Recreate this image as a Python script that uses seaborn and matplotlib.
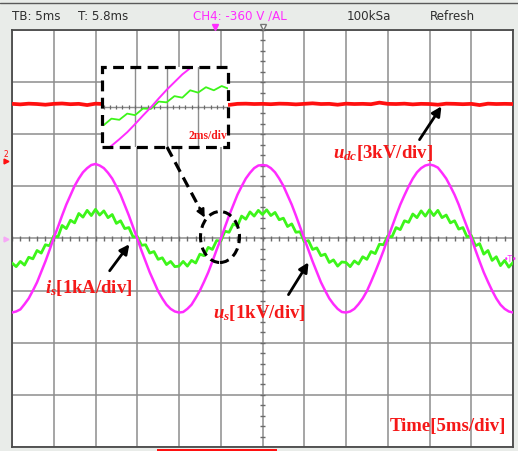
import numpy as np
import matplotlib
matplotlib.use("Agg")
import matplotlib.pyplot as plt
import seaborn as sns
from matplotlib.patches import Rectangle, Ellipse, FancyArrowPatch
from matplotlib.lines import Line2D

# ---- captured traces ------------------------------------------------------
# sample clock: 0.5 ms steps over the 60 ms record (12 div x 5 ms/div)
t_ms = np.arange(121) * 0.5

# grid voltage u_s [kV]
u_s_kv = [
    -1.42, -1.40, -1.36, -1.26, -1.15, -1.00, -0.84, -0.64, -0.44, -0.22,
    0.01, 0.22, 0.44, 0.65, 0.83, 1.01, 1.15, 1.27, 1.35, 1.41,
    1.43, 1.40, 1.35, 1.26, 1.15, 1.00, 0.84, 0.64, 0.44, 0.22,
    0.00, -0.23, -0.44, -0.65, -0.83, -1.01, -1.15, -1.27, -1.35, -1.40,
    -1.42, -1.41, -1.35, -1.27, -1.14, -1.00, -0.83, -0.65, -0.44, -0.22,
    -0.01, 0.22, 0.44, 0.64, 0.84, 1.00, 1.15, 1.26, 1.35, 1.40,
    1.41, 1.40, 1.35, 1.27, 1.15, 1.01, 0.83, 0.65, 0.44, 0.22,
    0.00, -0.22, -0.44, -0.64, -0.84, -1.00, -1.15, -1.26, -1.35, -1.41,
    -1.42, -1.40, -1.35, -1.26, -1.15, -1.01, -0.83, -0.64, -0.44, -0.23,
    0.00, 0.22, 0.44, 0.65, 0.83, 1.00, 1.15, 1.27, 1.35, 1.40,
    1.42, 1.40, 1.36, 1.26, 1.15, 1.00, 0.84, 0.65, 0.43, 0.22,
    0.01, -0.22, -0.44, -0.65, -0.83, -1.00, -1.15, -1.27, -1.35, -1.40,
    -1.42,
]

# grid current i_s [kA]
i_s_ka = [
    -0.47, -0.54, -0.44, -0.51, -0.36, -0.39, -0.23, -0.28, -0.12, -0.14,
    0.05, 0.03, 0.25, 0.19, 0.35, 0.30, 0.48, 0.41, 0.54, 0.44,
    0.56, 0.45, 0.53, 0.40, 0.46, 0.29, 0.34, 0.19, 0.21, 0.03,
    0.04, -0.13, -0.12, -0.28, -0.25, -0.40, -0.37, -0.50, -0.44, -0.54,
    -0.53, -0.44, -0.53, -0.42, -0.47, -0.30, -0.33, -0.17, -0.21, -0.04,
    -0.05, 0.14, 0.12, 0.28, 0.24, 0.43, 0.37, 0.51, 0.43, 0.54,
    0.46, 0.55, 0.44, 0.50, 0.36, 0.39, 0.23, 0.28, 0.12, 0.13,
    -0.06, -0.04, -0.21, -0.18, -0.33, -0.30, -0.46, -0.41, -0.53, -0.45,
    -0.46, -0.54, -0.43, -0.49, -0.35, -0.40, -0.25, -0.29, -0.11, -0.12,
    0.05, 0.03, 0.21, 0.17, 0.34, 0.31, 0.47, 0.40, 0.53, 0.43,
    0.55, 0.44, 0.54, 0.40, 0.45, 0.30, 0.34, 0.18, 0.21, 0.03,
    0.06, -0.14, -0.10, -0.30, -0.23, -0.42, -0.35, -0.52, -0.42, -0.55,
    -0.46,
]

# dc-link voltage u_dc [kV], 1 ms steps
t_dc_ms = np.arange(61) * 1.0
u_dc_kv = [
    7.75, 7.72, 7.76, 7.74, 7.70, 7.75, 7.77, 7.73, 7.75, 7.68,
    7.76, 7.74, 7.75, 7.72, 7.77, 7.75, 7.74, 7.76, 7.71, 7.75,
    7.74, 7.76, 7.73, 7.75, 7.77, 7.74, 7.69, 7.75, 7.76, 7.74,
    7.75, 7.73, 7.76, 7.75, 7.72, 7.75, 7.78, 7.74, 7.75, 7.70,
    7.76, 7.74, 7.75, 7.73, 7.82, 7.75, 7.74, 7.76, 7.72, 7.75,
    7.74, 7.70, 7.76, 7.75, 7.73, 7.75, 7.68, 7.76, 7.74, 7.75,
    7.74,
]

# channel sensitivities (units per division)
US_PER_DIV = 1.0    # kV/div
IS_PER_DIV = 1.0    # kA/div
UDC_PER_DIV = 3.0   # kV/div

status_items = ["TB: 5ms", "T: 5.8ms", "CH4: -360 V \u2215AL", "100kSa", "Refresh"]

# ---- styling --------------------------------------------------------------
PINK = "#ff2cff"
GREEN = "#3df51a"
RED = "#ff1010"
LABEL_RED = "#f51818"
GRID = "#8d8d8d"
PANEL = "#e9ece9"

W, H = 518, 451
sns.set_theme(style="white")
plt.rcParams["font.family"] = ["DejaVu Sans"]
plt.rcParams["mathtext.fontset"] = "custom"
plt.rcParams["mathtext.it"] = "Liberation Serif:italic:bold"
plt.rcParams["mathtext.rm"] = "Liberation Serif:bold"
plt.rcParams["mathtext.bf"] = "Liberation Serif:bold"

fig = plt.figure(figsize=(W / 100, H / 100), dpi=100, facecolor=PANEL)


def fx(px):
    return px / W


def fy(py):
    return 1 - py / H


# ---- main screen ----------------------------------------------------------
L, R, T, B = 12, 513, 30, 447
ax = fig.add_axes([fx(L), fy(B), (R - L) / W, (B - T) / H])
ax.set_facecolor("white")
ax.set_xlim(0, 60)
ax.set_ylim(-4, 4)
ax.set_xticks(np.arange(0, 61, 5))
ax.set_yticks(np.arange(-4, 5, 1))
ax.tick_params(length=0, labelbottom=False, labelleft=False)
ax.grid(True, color=GRID, lw=1.1)
for s in ax.spines.values():
    s.set_color("#4a4a4a")
    s.set_linewidth(1.3)

# minor ticks on the centre cross
tick_col = "#6a6a6a"
ax.vlines(np.arange(0, 60.01, 1.0), -0.045, 0.045, color=tick_col, lw=1.0, zorder=2)
ax.hlines(np.arange(-4, 4.01, 0.2), 30 - 0.24, 30 + 0.24, color=tick_col, lw=1.0, zorder=2)

sns.lineplot(x=t_dc_ms, y=np.array(u_dc_kv) / UDC_PER_DIV, ax=ax, color=RED,
             lw=2.7, estimator=None, sort=False, legend=False, zorder=3)
sns.lineplot(x=t_ms, y=np.array(i_s_ka) / IS_PER_DIV, ax=ax, color=GREEN,
             lw=2.0, estimator=None, sort=False, legend=False, zorder=4)
sns.lineplot(x=t_ms, y=np.array(u_s_kv) / US_PER_DIV, ax=ax, color=PINK,
             lw=1.8, estimator=None, sort=False, legend=False, zorder=5)
ax.set_xlabel("")
ax.set_ylabel("")

# ---- zoomed view around the zero crossing (2 ms/div) -----------------------
IL, IR, IT, IB = 102, 228, 67, 147
axi = fig.add_axes([fx(IL), fy(IB), (IR - IL) / W, (IB - IT) / H])
axi.set_facecolor("white")
axi.set_xlim(21.9, 29.9)
axi.set_ylim(-1.03, 1.03)
axi.set_xticks([24, 26, 28])
axi.set_yticks([])
axi.tick_params(length=0, labelbottom=False, labelleft=False)
axi.grid(True, axis="x", color=GRID, lw=1.0)
for s in axi.spines.values():
    s.set_visible(False)
axi.axhline(0, color=GRID, lw=1.0, zorder=1)
axi.vlines(np.arange(20.0, 30.01, 0.4), -0.05, 0.05, color=tick_col, lw=0.9, zorder=1)
sns.lineplot(x=t_ms, y=np.array(i_s_ka) / IS_PER_DIV, ax=axi, color=GREEN,
             lw=1.3, estimator=None, sort=False, legend=False, zorder=3)
sns.lineplot(x=t_ms, y=np.array(u_s_kv) / US_PER_DIV, ax=axi, color=PINK,
             lw=1.4, estimator=None, sort=False, legend=False, zorder=4)
axi.set_xlabel("")
axi.set_ylabel("")
fig.text(fx(227), fy(136), "2ms/div", color=LABEL_RED, fontsize=8.3,
         family="Liberation Serif", weight="bold", ha="right", va="center")

# dashed frame, circle and pointer
fig.add_artist(Rectangle((fx(IL), fy(IB)), (IR - IL) / W, (IB - IT) / H,
                         transform=fig.transFigure, fill=False, ec="black",
                         lw=2.3, ls=(0, (3.4, 2.0)), zorder=6))
fig.add_artist(Ellipse((fx(220), fy(237)), 39 / W, 51 / H,
                       transform=fig.transFigure, fill=False, ec="black",
                       lw=2.2, ls=(0, (3.0, 1.8)), zorder=6))
fig.add_artist(Line2D([fx(167), fx(200)], [fy(147), fy(209)],
                      transform=fig.transFigure, color="black", lw=2.3,
                      ls=(0, (3.4, 2.0)), zorder=6))
fig.add_artist(FancyArrowPatch((fx(198), fy(205)), (fx(206), fy(220)),
                               transform=fig.transFigure, arrowstyle="-|>",
                               mutation_scale=12, color="black", lw=1.5, zorder=6))

# solid pointers from the labels
for (x0, y0), (x1, y1) in [((418, 142), (443, 104)),
                           ((108, 273), (131, 242)),
                           ((287, 297), (310, 260))]:
    fig.add_artist(FancyArrowPatch((fx(x0), fy(y0)), (fx(x1), fy(y1)),
                                   transform=fig.transFigure, arrowstyle="-|>",
                                   mutation_scale=14, color="black", lw=2.0, zorder=6))

# channel labels
lab = dict(color=LABEL_RED, fontsize=13.5, family="Liberation Serif",
           weight="bold", ha="left", va="center")
fig.text(fx(333), fy(153), r"$u_{dc}$[3kV/div]", **lab)
fig.text(fx(45), fy(288), r"$i_{s}$[1kA/div]", **lab)
fig.text(fx(213), fy(313), r"$u_{s}$[1kV/div]", **lab)
fig.text(fx(390), fy(427), "Time[5ms/div]", **lab)

# ---- status bar -----------------------------------------------------------
fig.add_artist(Line2D([0, 1], [fy(3), fy(3)], transform=fig.transFigure,
                      color="#5a5a5a", lw=1.0))
status_x = [12, 78, 193, 347, 430]
status_col = ["#2e2e2e", "#2e2e2e", PINK, "#2e2e2e", "#2e2e2e"]
for s, x, c in zip(status_items, status_x, status_col):
    fig.text(fx(x), fy(16), s, color=c, fontsize=8.6, ha="left", va="center",
             family=["DejaVu Sans"])

fig.add_artist(Line2D([fx(215)], [fy(26.5)], transform=fig.transFigure,
                      marker="v", ms=4, color=PINK, ls="none"))
fig.add_artist(Line2D([fx(263)], [fy(26.5)], transform=fig.transFigure,
                      marker="v", ms=5, mfc="white", mec="#777777", ls="none"))

# channel markers on the edges
fig.text(fx(6), fy(154), "2", color=RED, fontsize=5.5, ha="center", va="center")
fig.add_artist(Line2D([fx(6)], [fy(161)], transform=fig.transFigure,
                      marker=">", ms=3.5, color=RED, ls="none"))
fig.add_artist(Line2D([fx(6)], [fy(239)], transform=fig.transFigure,
                      marker=">", ms=3.5, color="#f7a8f7", ls="none"))
fig.text(fx(511), fy(259), "\u2022T\u2022", color=PINK, fontsize=5.5,
         ha="center", va="center")

# marker bar under the screen
fig.add_artist(Rectangle((fx(157), fy(451)), 120 / W, 2.5 / H,
                         transform=fig.transFigure, color=RED, lw=0))

fig.savefig("out.png", dpi=100, facecolor=fig.get_facecolor())
